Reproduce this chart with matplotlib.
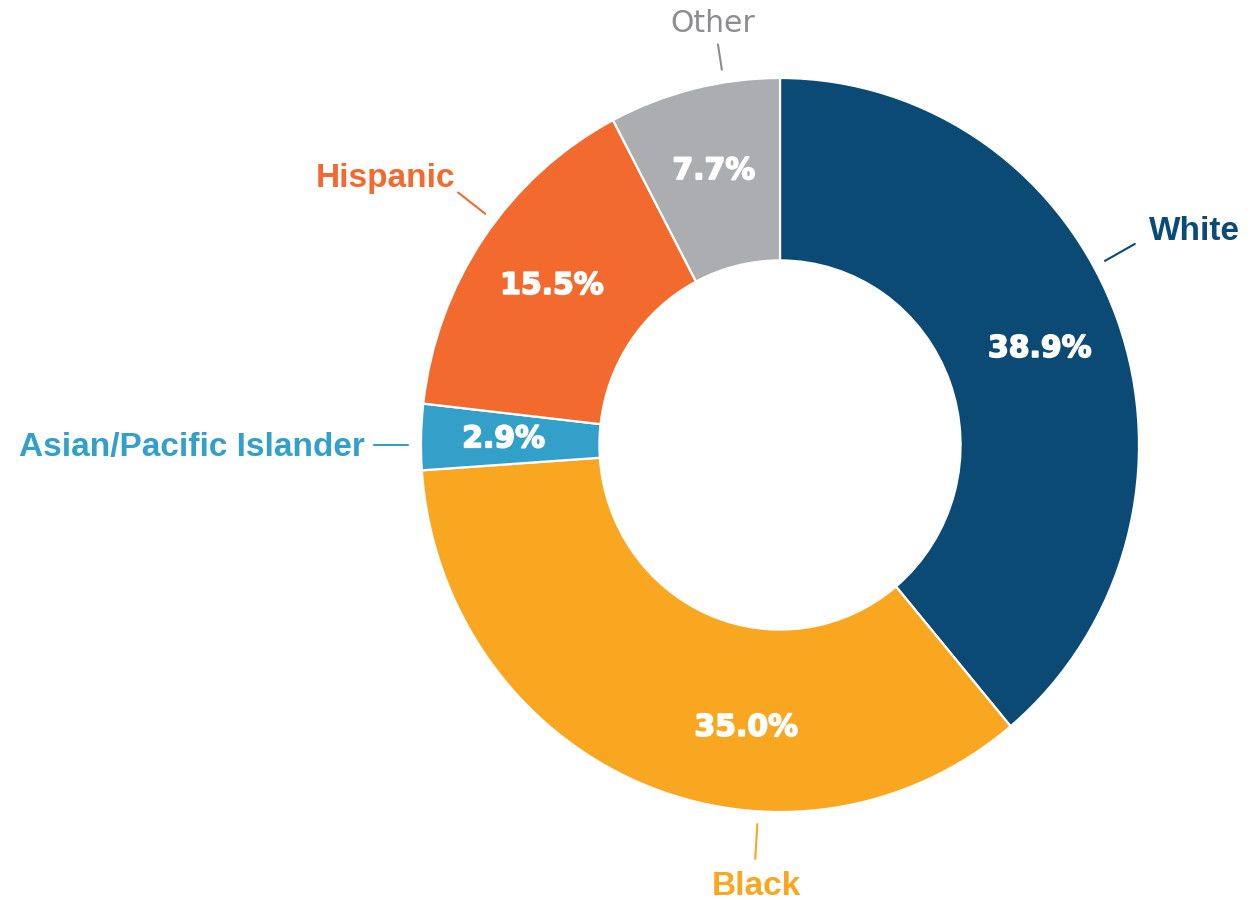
import matplotlib.pyplot as plt
import matplotlib.patheffects as pe
import numpy as np

# data
groups = ['White', 'Black', 'Asian/Pacific Islander', 'Hispanic', 'Other']
shares = [38.9, 35.0, 2.9, 15.5, 7.7]
colors = ['#0b4a75', '#f9a720', '#32a0c8', '#f26a2d', '#acadb0']
label_colors = ['#0b4a75', '#f9a720', '#32a0c8', '#f26a2d', '#8c8d91']

# where the outside labels sit (degrees, counter-clockwise from 3 o'clock)
label_angle = [29, 266.5, 180, 142.5, 99]
label_r1 = [1.13, 1.13, 1.13, 1.13, 1.105]
label_ha = ['left', 'center', 'right', 'right', 'center']
label_off = [(10, 3), (1, -26), (-7, -8), (-2, 4), (-4, 9)]  # points from line end
label_weight = ['bold', 'bold', 'bold', 'bold', 'normal']

fig = plt.figure(figsize=(12.5, 9), dpi=100)
ax = fig.add_axes([0, 0, 1, 1])

wedges, texts, pcts = ax.pie(
    shares, colors=colors, startangle=90, counterclock=False,
    radius=1.0, autopct='%.1f%%', pctdistance=0.77,
    wedgeprops=dict(width=0.497, edgecolor='white', linewidth=1.6),
    textprops=dict(color='white', fontsize=21.5, fontweight='bold',
                   family='DejaVu Sans'))

for t in pcts:
    t.set_path_effects([pe.withStroke(linewidth=1.2, foreground='white')])

# black's percentage sits off its mid angle in the original
a = np.radians(-97)
pcts[1].set_position((0.775 * np.cos(a), 0.775 * np.sin(a)))

for i, g in enumerate(groups):
    a = np.radians(label_angle[i])
    r0, r1 = 1.035, label_r1[i]
    x0, y0 = r0 * np.cos(a), r0 * np.sin(a)
    x1, y1 = r1 * np.cos(a), r1 * np.sin(a)
    ax.plot([x0, x1], [y0, y1], color=label_colors[i], lw=1.5, solid_capstyle='round')
    if label_weight[i] == 'bold':
        fam, fs = 'Liberation Sans', 24
    else:
        fam, fs = 'DejaVu Sans', 21.5
    ax.annotate(g, xy=(x1, y1), xytext=label_off[i], textcoords='offset points',
                ha=label_ha[i], va='baseline', color=label_colors[i], fontsize=fs,
                fontweight=label_weight[i], family=fam)

# pixel-calibrated limits (slightly taller than wide, as in the original)
ax.set_aspect('auto')
ax.set_xlim(-780 / 359, (1250 - 780) / 359)
ax.set_ylim(-(900 - 445) / 367, 445 / 367)
ax.axis('off')

fig.savefig('out.png', dpi=100, facecolor='white')
